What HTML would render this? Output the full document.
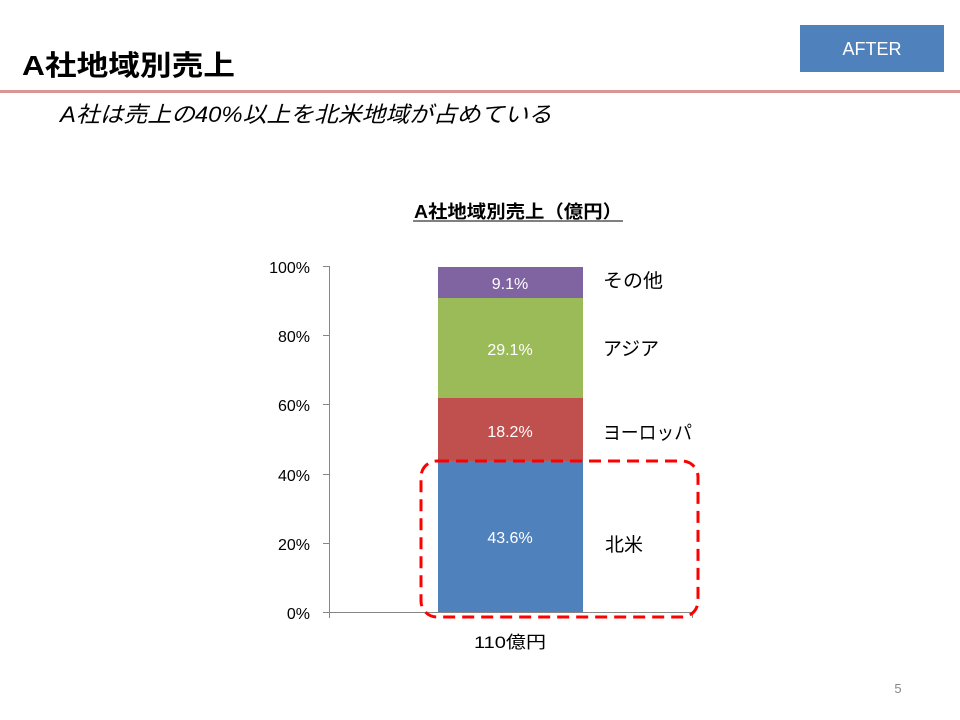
<!DOCTYPE html>
<html><head><meta charset="utf-8"><style>
body{margin:0;width:960px;height:720px;background:#fff;overflow:hidden;font-family:"Liberation Sans","Noto Sans CJK JP",sans-serif;}
</style></head><body>
<svg width="960" height="720" xmlns="http://www.w3.org/2000/svg" style="position:absolute;left:0;top:0" font-family="Liberation Sans, Noto Sans CJK JP, sans-serif">
<text x="22" y="75" font-size="28" font-weight="bold" fill="#000" textLength="213" lengthAdjust="spacingAndGlyphs">A社地域別売上</text>
<rect x="800" y="25" width="144" height="47" fill="#4f81bd"/>
<text x="872" y="55" font-size="18" fill="#fff" text-anchor="middle">AFTER</text>
<rect x="0" y="90" width="960" height="3" fill="#d99694"/>
<text x="60" y="122" font-size="22" font-style="italic" fill="#000" textLength="492" lengthAdjust="spacingAndGlyphs">A社は売上の40%以上を北米地域が占めている</text>
<text x="414" y="218" font-size="18" font-weight="bold" fill="#000" textLength="208" lengthAdjust="spacingAndGlyphs">A社地域別売上（億円）</text>
<line x1="413" y1="221" x2="623" y2="221" stroke="#000" stroke-width="1"/>
<g stroke="#868686" stroke-width="1">
<line x1="329.5" y1="266" x2="329.5" y2="618"/>
<line x1="329" y1="612.5" x2="692" y2="612.5"/>
<line x1="692.5" y1="612" x2="692.5" y2="618"/>
<line x1="323" y1="266.5" x2="329" y2="266.5"/>
<line x1="323" y1="335.5" x2="329" y2="335.5"/>
<line x1="323" y1="404.5" x2="329" y2="404.5"/>
<line x1="323" y1="474.5" x2="329" y2="474.5"/>
<line x1="323" y1="543.5" x2="329" y2="543.5"/>
<line x1="323" y1="612.5" x2="329" y2="612.5"/>
</g>
<g font-size="16" fill="#000" text-anchor="end">
<text x="310" y="273">100%</text><text x="310" y="342">80%</text><text x="310" y="411">60%</text><text x="310" y="481">40%</text><text x="310" y="550">20%</text><text x="310" y="619">0%</text>
</g>
<rect x="438" y="461" width="145" height="151" fill="#4f81bd"/>
<rect x="438" y="398" width="145" height="63" fill="#c0504d"/>
<rect x="438" y="298" width="145" height="100" fill="#9bbb59"/>
<rect x="438" y="267" width="145" height="31" fill="#8064a2"/>
<g font-size="16" fill="#fff" text-anchor="middle">
<text x="510" y="289">9.1%</text><text x="510" y="355">29.1%</text><text x="510" y="437">18.2%</text><text x="510" y="543">43.6%</text>
</g>
<g font-size="19" fill="#000">
<text x="603" y="287" textLength="60" lengthAdjust="spacingAndGlyphs">その他</text>
<text x="603" y="355" textLength="56" lengthAdjust="spacingAndGlyphs">アジア</text>
<text x="603" y="439" textLength="89" lengthAdjust="spacingAndGlyphs">ヨーロッパ</text>
<text x="605" y="551" textLength="38" lengthAdjust="spacingAndGlyphs">北米</text>
</g>
<rect x="421" y="461" width="277" height="156" rx="16" fill="none" stroke="#ff0000" stroke-width="3" stroke-dasharray="12,7"/>
<text x="510" y="648" font-size="17" fill="#000" text-anchor="middle" textLength="72" lengthAdjust="spacingAndGlyphs">110億円</text>
<text x="898" y="693" font-size="13" fill="#888" text-anchor="middle">5</text>
</svg>
</body></html>
